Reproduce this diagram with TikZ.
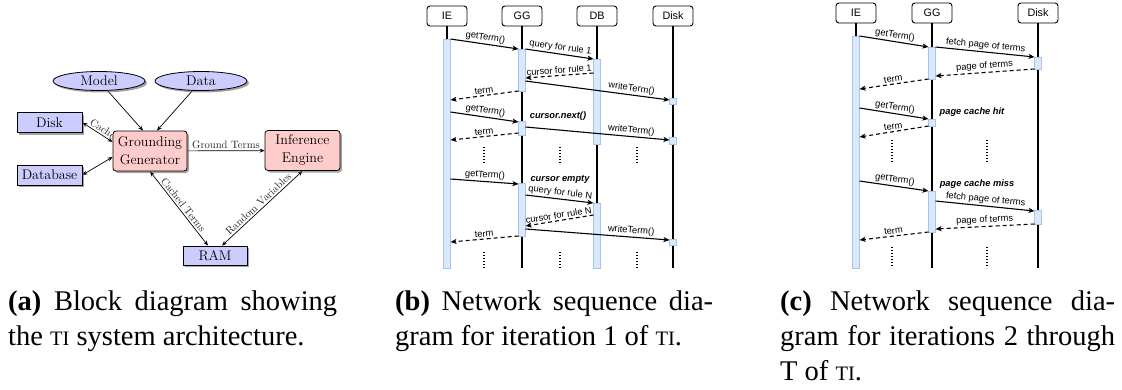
\documentclass[tikz,border=0pt]{standalone}
\usepackage{fontspec}
\newfontfamily\capfont{Liberation Serif}
\newfontfamily\seqfont{Liberation Sans}
\usetikzlibrary{shapes.geometric,shadows,arrows.meta,calc,backgrounds}

\definecolor{blockblue}{HTML}{CCCCFF}
\definecolor{blockred}{HTML}{FFCCCC}
\definecolor{actfill}{HTML}{DAE8FC}
\definecolor{actdraw}{HTML}{A9C4EB}

% fake small caps for the system name
\newcommand\tisc{{\fontsize{20.5}{35}\selectfont TI}}

\tikzset{
  shadowed/.style={drop shadow={shadow xshift=2pt,shadow yshift=-2pt,fill=black!60,opacity=0.6}},
  blk/.style={draw,line width=0.8pt,fill=blockblue,shadowed,inner sep=0pt,
    font=\fontsize{14}{17}\selectfont},
  oval/.style={blk,ellipse,minimum width=92pt,minimum height=19pt},
  store/.style={blk,rectangle,minimum width=65pt,minimum height=20pt},
  proc/.style={blk,rectangle,rounded corners=3pt,fill=blockred,align=center,
    font=\fontsize{14}{18}\selectfont},
  arr/.style={line width=0.7pt,-{Stealth[length=5pt,width=4pt]}},
  darr/.style={line width=0.7pt,{Stealth[length=5pt,width=4pt]}-{Stealth[length=5pt,width=4pt]}},
  elab/.style={sloped,above,inner sep=1.5pt,text=black!85,font=\fontsize{10.6}{12}\selectfont},
  life/.style={draw,line width=0.9pt,rounded corners=3pt,fill=white,minimum width=40pt,
    minimum height=20pt,inner sep=0pt,font=\seqfont\fontsize{10.8}{12}\selectfont},
  lifeline/.style={line width=1.1pt},
  act/.style={draw=actdraw,fill=actfill,line width=0.8pt},
  msg/.style={line width=1.1pt,-{Stealth[length=6pt,width=5pt,inset=1.5pt]}},
  ret/.style={msg,dash pattern=on 4pt off 3pt},
  mlab/.style={sloped,above,inner sep=1.5pt,font=\seqfont\fontsize{9.3}{11}\selectfont},
  seqnote/.style={inner sep=0pt,font=\seqfont\bfseries\itshape\fontsize{9.3}{11}\selectfont},
  vdots/.style={line width=1.2pt,dash pattern=on 1pt off 2pt},
  captext/.style={inner sep=0pt,font=\capfont\fontsize{28.5}{35}\selectfont}
}

\begin{document}
\begin{tikzpicture}[x=1pt,y=-1pt]
\useasboundingbox (0,0) rectangle (1122,389);

% ---------------- (a) block diagram ----------------
\node[oval]  (Model) at (99,81)     {Model};
\node[oval]  (Data)  at (201,81)    {Data};
\node[store] (Disk)  at (49.5,122.5) {Disk};
\node[store] (DBase) at (49.5,175)  {Database};
\node[proc,minimum width=74pt,minimum height=40pt] (GG) at (150,151) {Grounding\\Generator};
\node[proc,minimum width=75pt,minimum height=40pt] (IE) at (302.5,150.5) {Inference\\Engine};
\node[store,minimum width=64pt,minimum height=19pt] (RAM) at (215,255.5) {RAM};

\begin{scope}[on background layer]
  \draw[arr]  (Model) -- ($(GG.north)+(-7,0)$);
  \draw[arr]  (Data)  -- ($(GG.north)+(7,0)$);
  \draw[darr] (Disk.east) -- ($(GG.west)+(0,-9)$) node[elab,pos=0.66] {Cached};
  \draw[darr] (DBase.east) -- ($(GG.west)+(0,6)$);
  \draw[arr]  (GG) -- node[elab] {Ground Terms} (IE);
  \draw[darr] (GG.south) -- ($(RAM.north)+(-7,0)$) node[elab,midway] {Cached Terms};
  \draw[darr] (IE.south) -- ($(RAM.north)+(7,0)$) node[elab,midway] {Random Variables};
\end{scope}

% ---------------- (b) sequence, iteration 1 ----------------
\node[life] (bIE)   at (447,16) {IE};
\node[life] (bGG)   at (522,16) {GG};
\node[life] (bDB)   at (597,16) {DB};
\node[life] (bDisk) at (673,16) {Disk};
\coordinate (bIEend)   at (447,268);
\coordinate (bGGend)   at (522,268);
\coordinate (bDBend)   at (597,268);
\coordinate (bDiskend) at (673,268);
\foreach \n in {IE,GG,DB,Disk} \draw[lifeline] (b\n.south) -- (b\n end);

% activation bars
\draw[act] (443.5,39)  rectangle (450.5,268);
\draw[act] (518.5,49)  rectangle (525.5,91);
\draw[act] (593.5,59)  rectangle (600.5,144);
\draw[act] (669.5,98)  rectangle (676.5,104);
\draw[act] (518.5,121) rectangle (525.5,135);
\draw[act] (669.5,137) rectangle (676.5,144);
\draw[act] (518.5,183) rectangle (525.5,236);
\draw[act] (593.5,203) rectangle (600.5,268);
\draw[act] (669.5,239) rectangle (676.5,245);

% message end points
\coordinate (b1s) at (450.5,39);   \coordinate (b1e) at (518.5,49);
\coordinate (b2s) at (525.5,49);   \coordinate (b2e) at (593.5,59);
\coordinate (b3s) at (593.5,73);   \coordinate (b3e) at (525.5,78);
\coordinate (b4s) at (525.5,81);   \coordinate (b4e) at (669.5,100);
\coordinate (b5s) at (518.5,91);   \coordinate (b5e) at (450.5,100);
\coordinate (b6s) at (450.5,112);  \coordinate (b6e) at (518.5,122);
\coordinate (b7s) at (525.5,127);  \coordinate (b7e) at (669.5,140);
\coordinate (b8s) at (518.5,133);  \coordinate (b8e) at (450.5,140);
\coordinate (b9s) at (450.5,179);  \coordinate (b9e) at (518.5,184);
\coordinate (b10s) at (525.5,195); \coordinate (b10e) at (593.5,203);
\coordinate (b11s) at (593.5,215); \coordinate (b11e) at (525.5,226);
\coordinate (b12s) at (525.5,229); \coordinate (b12e) at (669.5,240);
\coordinate (b13s) at (518.5,236); \coordinate (b13e) at (450.5,242);

\draw[msg] (b1s) -- node[mlab] {getTerm()} (b1e);
\draw[msg] (b2s) -- node[mlab] {query for rule 1} (b2e);
\draw[ret] (b3s) -- node[mlab] {cursor for rule 1} (b3e);
\draw[msg] (b4s) -- node[mlab,pos=0.73] {writeTerm()} (b4e);
\draw[ret] (b5s) -- node[mlab] {term} (b5e);
\draw[msg] (b6s) -- node[mlab] {getTerm()} (b6e);
\node[seqnote] (bnext) at (558,116) {cursor.next()};
\draw[msg] (b7s) -- node[mlab,pos=0.73] {writeTerm()} (b7e);
\draw[ret] (b8s) -- node[mlab] {term} (b8e);
\draw[msg] (b9s) -- node[mlab] {getTerm()} (b9e);
\node[seqnote] (bempty) at (560,179) {cursor empty};
\draw[msg] (b10s) -- node[mlab] {query for rule N} (b10e);
\draw[ret] (b11s) -- node[mlab] {cursor for rule N} (b11e);
\draw[msg] (b12s) -- node[mlab,pos=0.73] {writeTerm()} (b12e);
\draw[ret] (b13s) -- node[mlab] {term} (b13e);

\foreach \x in {484,560,637} {
  \draw[vdots] (\x,147) -- (\x,163);
  \draw[vdots] (\x,252) -- (\x,268);
}

% ---------------- (c) sequence, iterations 2..T ----------------
\node[life] (cIE)   at (856,13)  {IE};
\node[life] (cGG)   at (932,13)  {GG};
\node[life] (cDisk) at (1038,13) {Disk};
\coordinate (cIEend)   at (856,268);
\coordinate (cGGend)   at (932,268);
\coordinate (cDiskend) at (1038,268);
\foreach \n in {IE,GG,Disk} \draw[lifeline] (c\n.south) -- (c\n end);

\draw[act] (852.5,36)   rectangle (859.5,268);
\draw[act] (928.5,47)   rectangle (935.5,79);
\draw[act] (1034.5,57)  rectangle (1041.5,69);
\draw[act] (928.5,119)  rectangle (935.5,126);
\draw[act] (928.5,191)  rectangle (935.5,232);
\draw[act] (1034.5,210) rectangle (1041.5,224);

\coordinate (c1s) at (859.5,36);   \coordinate (c1e) at (928.5,47);
\coordinate (c2s) at (935.5,47);   \coordinate (c2e) at (1034.5,57);
\coordinate (c3s) at (1034.5,69);  \coordinate (c3e) at (935.5,76);
\coordinate (c4s) at (928.5,79);   \coordinate (c4e) at (859.5,89);
\coordinate (c5s) at (859.5,108);  \coordinate (c5e) at (928.5,119);
\coordinate (c6s) at (928.5,126);  \coordinate (c6e) at (859.5,137);
\coordinate (c7s) at (859.5,181);  \coordinate (c7e) at (928.5,191);
\coordinate (c8s) at (935.5,201);  \coordinate (c8e) at (1034.5,211);
\coordinate (c9s) at (1034.5,224); \coordinate (c9e) at (935.5,229);
\coordinate (c10s) at (928.5,232); \coordinate (c10e) at (859.5,240);

\draw[msg] (c1s) -- node[mlab] {getTerm()} (c1e);
\draw[msg] (c2s) -- node[mlab] {fetch page of terms} (c2e);
\draw[ret] (c3s) -- node[mlab] {page of terms} (c3e);
\draw[ret] (c4s) -- node[mlab] {term} (c4e);
\draw[msg] (c5s) -- node[mlab] {getTerm()} (c5e);
\node[seqnote] (chit) at (972,112) {page cache hit};
\draw[ret] (c6s) -- node[mlab] {term} (c6e);
\draw[msg] (c7s) -- node[mlab] {getTerm()} (c7e);
\node[seqnote] (cmiss) at (977,184) {page cache miss};
\draw[msg] (c8s) -- node[mlab] {fetch page of terms} (c8e);
\draw[ret] (c9s) -- node[mlab] {page of terms} (c9e);
\draw[ret] (c10s) -- node[mlab] {term} (c10e);

\foreach \x in {892,987} {
  \draw[vdots] (\x,140) -- (\x,162);
  \draw[vdots] (\x,247) -- (\x,268);
}

% ---------------- captions ----------------
\node[captext,anchor=base west] (capa1) at (8,310)   {\makebox[329pt][s]{\textbf{(a)} Block diagram showing}};
\node[captext,anchor=base west] (capa2) at (8,345)   {the \tisc{} system architecture.};
\node[captext,anchor=base west] (capb1) at (395,310) {\makebox[318pt][s]{\textbf{(b)} Network sequence dia-}};
\node[captext,anchor=base west] (capb2) at (395,345) {gram for iteration 1 of \tisc.};
\node[captext,anchor=base west] (capc1) at (780,310) {\makebox[335pt][s]{\textbf{(c)} Network sequence dia-}};
\node[captext,anchor=base west] (capc2) at (780,345) {\makebox[335pt][s]{gram for iterations 2 through}};
\node[captext,anchor=base west] (capc3) at (780,380) {T of \tisc.};
\end{tikzpicture}
\end{document}
